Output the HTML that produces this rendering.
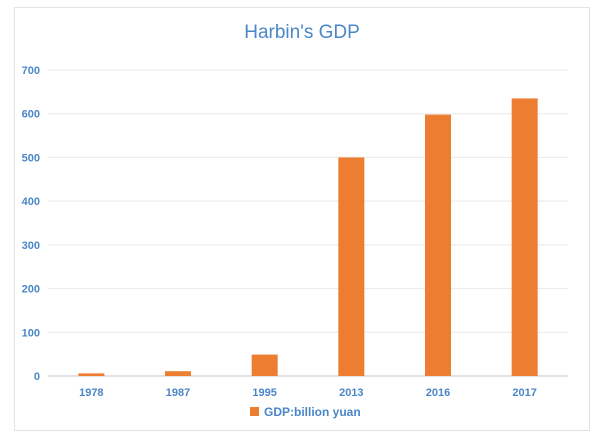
<!DOCTYPE html>
<html><head><meta charset="utf-8"><style>
body{margin:0;background:#fff;}
svg{display:block;font-family:"Liberation Sans",sans-serif;}
</style></head><body>
<svg width="600" height="438">
<rect x="14.5" y="7.5" width="575" height="423" fill="#fff" stroke="#e3e3e3"/>
<text x="302" y="38" text-anchor="middle" font-size="19" fill="#4a86c8">Harbin's GDP</text>
<g id="grid"></g><g id="bars"></g><g id="xl"></g>
<g>
<rect x="250" y="407" width="9" height="9" fill="#ed7d31"/>
<text x="264" y="416" font-size="12" font-weight="bold" fill="#4a86c8">GDP:billion yuan</text>
</g>
</svg>
<script>
const categories=["1978","1987","1995","2013","2016","2017"];
const values=[6,11,49,500,598,635];
const ticks=[0,100,200,300,400,500,600,700];
const ns="http://www.w3.org/2000/svg";
const L=48,R=568,Y0=376,Y7=70;
const y=v=>Y0-(v/700)*(Y0-Y7);
const bw=(R-L)/categories.length;
const x=i=>L+bw*(i+0.5);
function mk(t,a,p){const e=document.createElementNS(ns,t);for(const k in a)e.setAttribute(k,a[k]);p.appendChild(e);return e;}
const g=document.getElementById('grid');
ticks.forEach(t=>{
 const l=mk('line',{x1:L,x2:R,y1:y(t),y2:y(t),stroke:t===0?'#d9d9d9':'#e8e8e8','stroke-width':t===0?1.5:1},g);
 
 
 const tx=mk('text',{x:40,y:y(t)+4,'text-anchor':'end','font-size':11,'font-weight':'bold',fill:'#4a86c8'},g);
 tx.textContent=t;
 
 
});
const b=document.getElementById('bars'),xl=document.getElementById('xl');
categories.forEach((c,i)=>{
 const r=mk('rect',{x:x(i)-13,y:y(values[i]),width:26,height:Y0-y(values[i]),fill:'#ed7d31'},b);
 
 
 const t=mk('text',{x:x(i),y:396,'text-anchor':'middle','font-size':11,'font-weight':'bold',fill:'#4a86c8'},xl);
 t.textContent=c;
 
 
});
</script>
</body></html>
